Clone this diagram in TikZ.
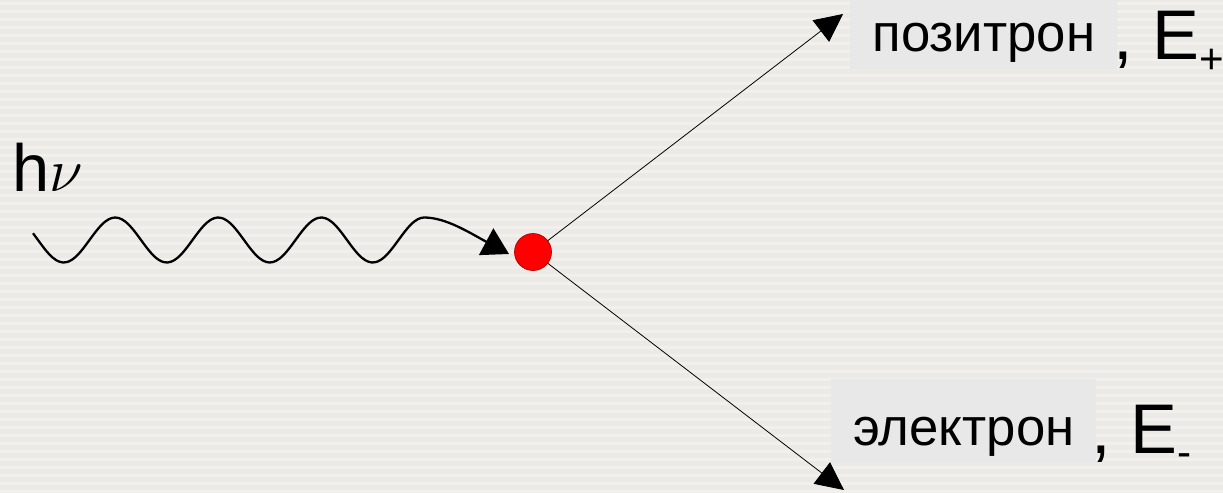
\documentclass[tikz,border=0pt]{standalone}
\usepackage{graphicx}
\usepackage{fontspec}
\setmainfont{Liberation Sans}
\usetikzlibrary{arrows.meta}
\definecolor{slide}{RGB}{236,234,230}
\definecolor{stripe}{RGB}{242,240,236}
\definecolor{labelgray}{RGB}{232,232,232}
\tikzset{
  photon/.style={line width=1.3pt, -{Triangle[length=0.52cm,width=0.6cm]}},
  ray/.style={line width=0.45pt, -{Triangle[length=0.56cm,width=0.54cm]}},
  labelbox/.style={fill=labelgray, inner xsep=0pt, inner ysep=0pt, anchor=base west,
    font=\fontsize{30}{36}\selectfont},
  energy/.style={inner sep=0pt, anchor=base west, font=\fontsize{40}{46}\selectfont},
}
\newcommand{\lowidx}[1]{\raisebox{-0.27cm}{\fontsize{24}{24}\selectfont #1}}

\begin{document}
\begin{tikzpicture}[x=0.02cm, y=-0.02cm]
  \fill[slide] (0,0) rectangle (1223,491);
  \foreach \y in {2,10,...,490}
    \fill[stripe] (0,\y) rectangle (1223,\y+3);
  \useasboundingbox (0,0) rectangle (1223,491);

  % the point where the pair is produced
  \node[circle, fill=red, draw=red!70!black, line width=0.4pt, minimum size=0.74cm, inner sep=0pt]
    (pair) at (533,252) {};

  % incoming photon
  \coordinate (wtip) at (509,254);
  \draw[photon] plot[domain=33:424.25, samples=120, smooth] (\x, {240+22.5*sin((\x-38)/103*360)})
    .. controls (446,217.5) and (470,233) .. (wtip);
  \node[anchor=base west, inner sep=0pt, font=\fontsize{38}{44}\selectfont] (photonlabel)
    at (12,192) {h\scalebox{1.4}{$\nu$}};

  % outgoing particles
  \coordinate (postip) at (843,14);
  \coordinate (eltip) at (844,490);
  \draw[ray] (pair) -- (postip);
  \draw[ray] (pair) -- (eltip);

  \node[labelbox, minimum width=5.34cm, text height=1.04cm, text depth=0.34cm]
    (poslabel) at (850,52) {позитрон};
  \node[energy] (posE) at (1113,60) {, E\lowidx{+}};
  \node[labelbox, minimum width=5.3cm, text height=1.32cm, text depth=0.36cm]
    (ellabel) at (831,445) {электрон};
  \node[energy] (elE) at (1091,453) {, E\lowidx{-}};
\end{tikzpicture}
\end{document}
